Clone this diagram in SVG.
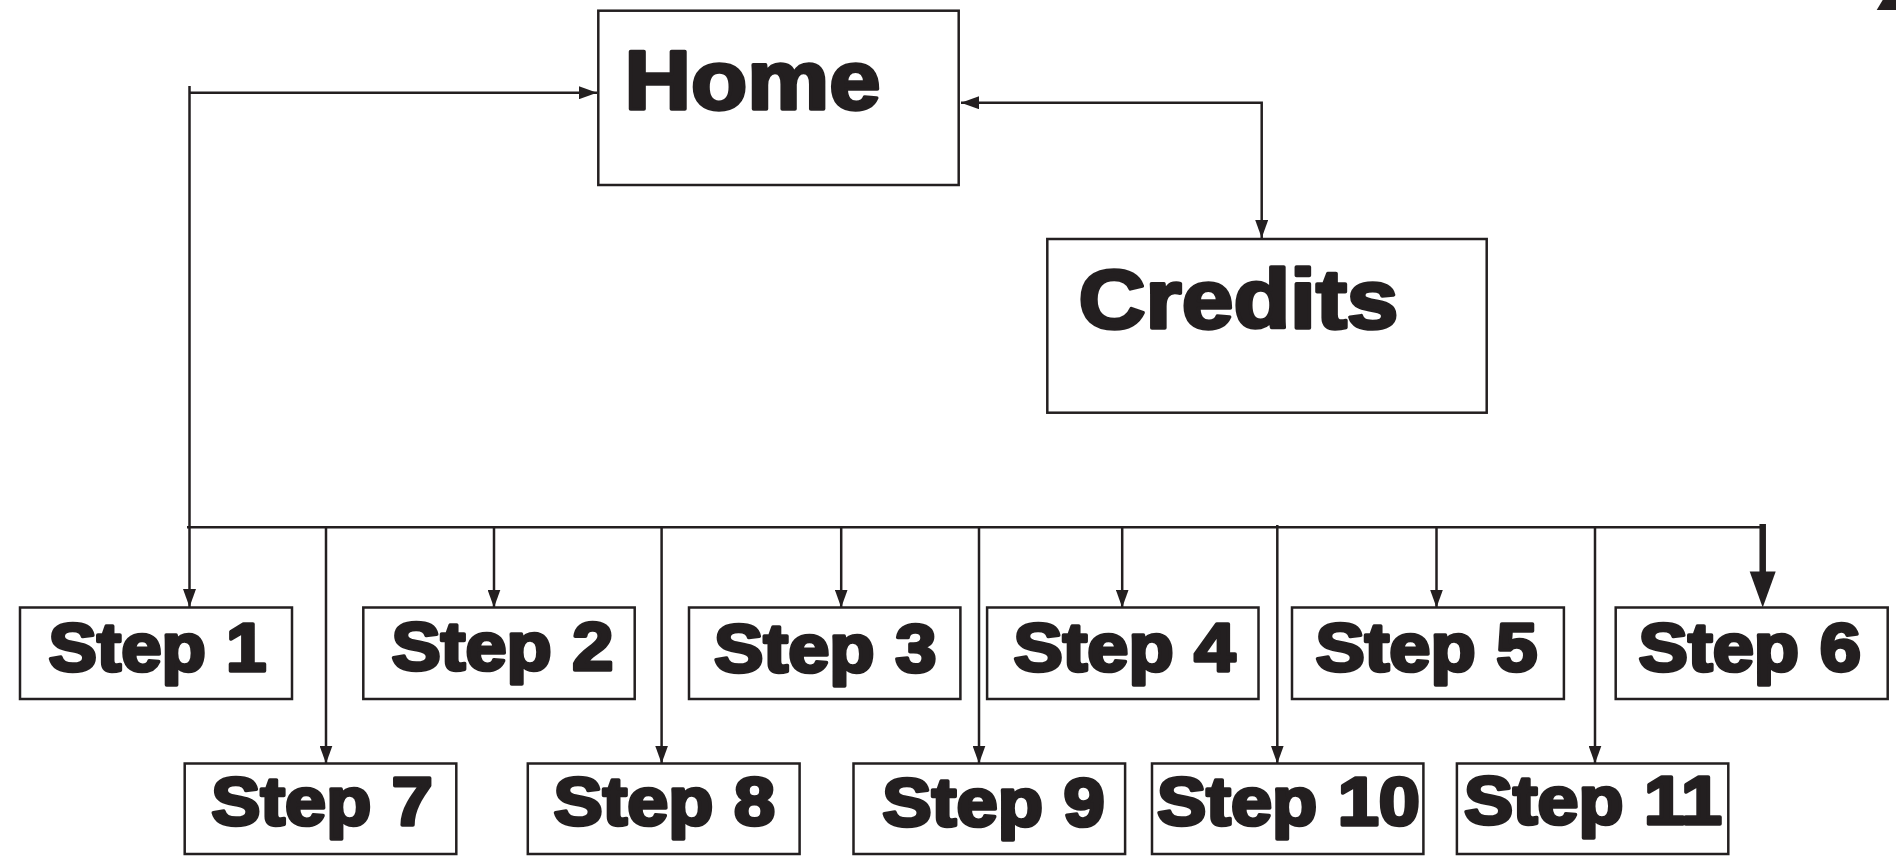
<svg xmlns="http://www.w3.org/2000/svg" width="1896" height="856" viewBox="0 0 1896 856">
<style>
.box{fill:#fff;stroke:#231f20;stroke-width:2.5}
.lbl{font-family:"Liberation Sans",Arial,sans-serif;font-weight:bold;fill:#231f20;stroke:#231f20;stroke-width:3.5;stroke-linejoin:round}
.big{font-size:84px}
.sm{font-size:68px}
.ln{fill:none;stroke:#231f20;stroke-width:2.5}
.thick{fill:none;stroke:#231f20;stroke-width:6.5}
.head{fill:#231f20}
</style>
<defs>
<marker id="ah" markerUnits="userSpaceOnUse" markerWidth="18" markerHeight="13" refX="18" refY="6.5" orient="auto">
<path d="M0,0 L18,6.5 L0,13 z" fill="#231f20"/>
</marker>
<marker id="ahs" markerUnits="userSpaceOnUse" markerWidth="18" markerHeight="13" refX="18" refY="6.5" orient="auto-start-reverse">
<path d="M0,0 L18,6.5 L0,13 z" fill="#231f20"/>
</marker>
</defs>
<rect width="1896" height="856" fill="#fff"/>
<polygon points="1876.7,10 1882.7,0 1896,0 1896,10" fill="#231f20"/>

<g id="connectors">
<path class="ln" d="M189.5,86 V607" marker-end="url(#ah)"/>
<path class="ln" d="M189.5,92.7 H597" marker-end="url(#ah)"/>
<path class="ln" d="M961,102.7 H1261.7 V238" marker-start="url(#ahs)" marker-end="url(#ah)"/>
<path class="ln" d="M187,527.3 H1763"/>
<path class="ln" d="M326,527.3 V763.5" marker-end="url(#ah)"/>
<path class="ln" d="M494,527.3 V607.5" marker-end="url(#ah)"/>
<path class="ln" d="M661.6,527.3 V763.5" marker-end="url(#ah)"/>
<path class="ln" d="M841.2,527.3 V607.5" marker-end="url(#ah)"/>
<path class="ln" d="M979,527.3 V763.5" marker-end="url(#ah)"/>
<path class="ln" d="M1122.2,527.3 V607.5" marker-end="url(#ah)"/>
<path class="ln" d="M1277.3,525 V763.5" marker-end="url(#ah)"/>
<path class="ln" d="M1436.5,527.3 V607.5" marker-end="url(#ah)"/>
<path class="ln" d="M1595,527.3 V763.5" marker-end="url(#ah)"/>
<path class="thick" d="M1762.7,524 V573"/>
<polygon class="head" points="1749.7,571.5 1775.7,571.5 1762.7,607.5"/>
</g>

<g id="home">
<rect class="box" x="598.3" y="10.7" width="360.4" height="174.3"/>
<text class="lbl big" x="624.5" y="108.5" textLength="256" lengthAdjust="spacingAndGlyphs">Home</text>
</g>
<g id="credits">
<rect class="box" x="1047.3" y="239" width="439.4" height="173.7"/>
<text class="lbl big" x="1078.5" y="327.5" textLength="320" lengthAdjust="spacingAndGlyphs">Credits</text>
</g>

<g id="step1">
<rect class="box" x="20" y="607.5" width="272" height="91.5"/>
<text class="lbl sm" x="48.5" y="671" textLength="218" lengthAdjust="spacingAndGlyphs">Step 1</text>
</g>
<g id="step2">
<rect class="box" x="363.3" y="607.5" width="271.4" height="91.5"/>
<text class="lbl sm" x="391.5" y="669.5" textLength="222" lengthAdjust="spacingAndGlyphs">Step 2</text>
</g>
<g id="step3">
<rect class="box" x="689" y="607.5" width="271.4" height="91.5"/>
<text class="lbl sm" x="714" y="671.5" textLength="222.5" lengthAdjust="spacingAndGlyphs">Step 3</text>
</g>
<g id="step4">
<rect class="box" x="987.1" y="607.5" width="271.4" height="91.5"/>
<text class="lbl sm" x="1013.4" y="671" textLength="222" lengthAdjust="spacingAndGlyphs">Step 4</text>
</g>
<g id="step5">
<rect class="box" x="1292" y="607.5" width="271.9" height="91.5"/>
<text class="lbl sm" x="1315.4" y="671" textLength="222" lengthAdjust="spacingAndGlyphs">Step 5</text>
</g>
<g id="step6">
<rect class="box" x="1615.7" y="607.5" width="272" height="91.5"/>
<text class="lbl sm" x="1638.5" y="670.5" textLength="222.5" lengthAdjust="spacingAndGlyphs">Step 6</text>
</g>

<g id="step7">
<rect class="box" x="184.7" y="763.5" width="271.6" height="90.5"/>
<text class="lbl sm" x="211.3" y="825" textLength="221.5" lengthAdjust="spacingAndGlyphs">Step 7</text>
</g>
<g id="step8">
<rect class="box" x="527.8" y="763.5" width="271.8" height="90.5"/>
<text class="lbl sm" x="553.5" y="825" textLength="221.5" lengthAdjust="spacingAndGlyphs">Step 8</text>
</g>
<g id="step9">
<rect class="box" x="853.5" y="763.5" width="271.6" height="90.5"/>
<text class="lbl sm" x="882.3" y="825.5" textLength="222.5" lengthAdjust="spacingAndGlyphs">Step 9</text>
</g>
<g id="step10">
<rect class="box" x="1152" y="763.5" width="271.4" height="90.5"/>
<text class="lbl sm" x="1157" y="825" textLength="263" lengthAdjust="spacingAndGlyphs">Step 10</text>
</g>
<g id="step11">
<rect class="box" x="1456.9" y="763.5" width="271.4" height="90.5"/>
<text class="lbl sm" x="1463.9" y="823.5" textLength="258" lengthAdjust="spacingAndGlyphs">Step 11</text>
</g>
</svg>
